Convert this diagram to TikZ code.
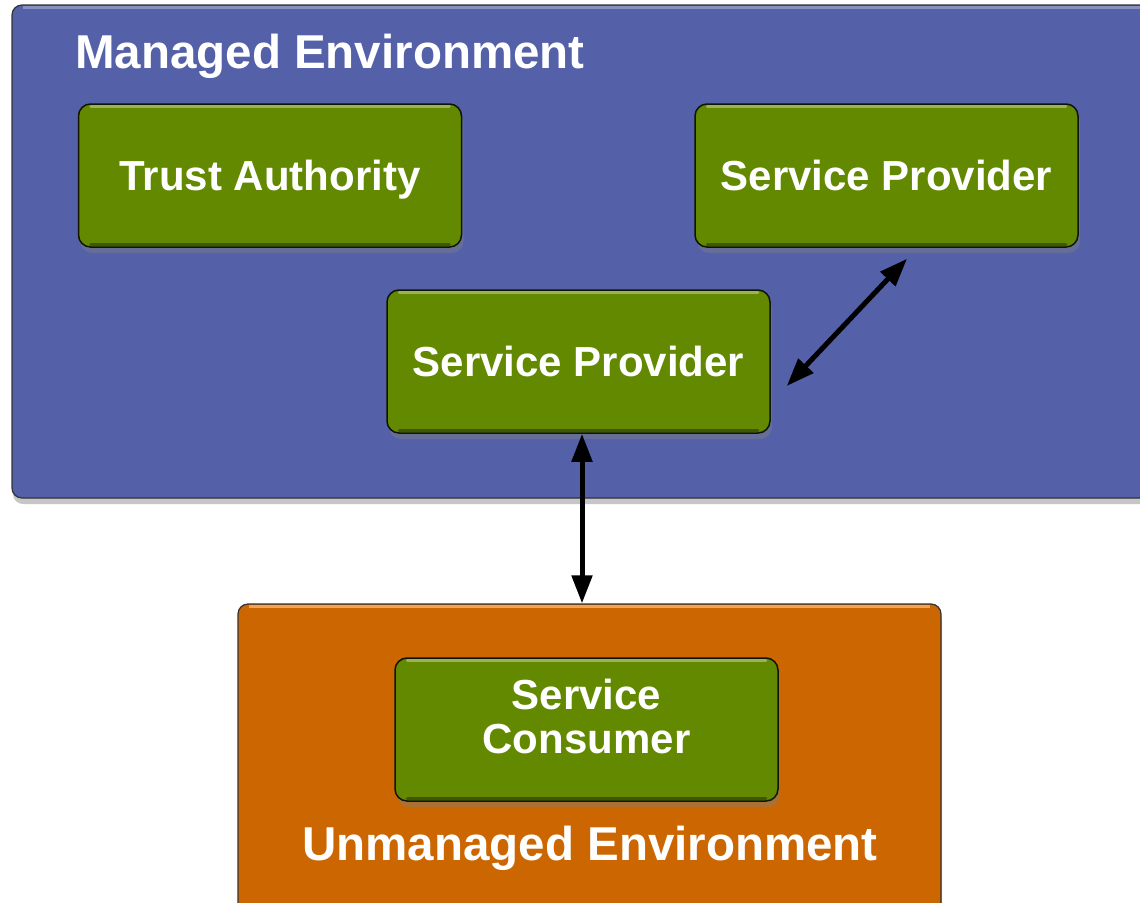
\documentclass[tikz,border=0pt]{standalone}
\usepackage{fontspec}
\setmainfont{Liberation Sans}
\usetikzlibrary{arrows.meta,shadows}

\definecolor{envblue}{RGB}{84,97,169}
\definecolor{envorange}{RGB}{204,102,0}
\definecolor{boxgreen}{RGB}{98,137,0}

\tikzset{
  envbox/.style={draw=black!80, line width=1.2pt, rounded corners=10pt,
    drop shadow={shadow xshift=1pt, shadow yshift=-6pt, opacity=0.45}},
  compbox/.style={draw=black!85!boxgreen, line width=1.5pt, fill=boxgreen,
    rounded corners=12pt, minimum width=383pt, minimum height=143pt,
    align=center, text=white, font=\fontsize{42}{44}\selectfont\bfseries,
    drop shadow={shadow xshift=2pt, shadow yshift=-6pt, opacity=0.4}},
  oneline/.style={text height=30pt, text depth=0pt},
  envtitle/.style={text=white, font=\fontsize{47.5}{50}\selectfont\bfseries, inner sep=0pt},
  link/.style={line width=5pt, {Triangle[length=28pt,width=20pt]}-{Triangle[length=28pt,width=20pt]}}
}

\begin{document}
\begin{tikzpicture}[x=1pt,y=-1pt]
  \useasboundingbox (0,0) rectangle (1140,902);
  \clip (0,0) rectangle (1140,902);
  % environments
  \node[envbox, fill=envblue, minimum width=1160pt, minimum height=493pt] (managed) at (592,251.5) {};
  \node[envbox, fill=envorange, minimum width=703pt, minimum height=330pt] (unmanaged) at (589.5,769) {};
  % top highlights
  \draw[white, opacity=0.3, line width=3pt] ([xshift=12pt,yshift=-3pt]managed.north west) -- ([xshift=-12pt,yshift=-3pt]managed.north east);
  \draw[white!50!orange, opacity=0.7, line width=3pt] ([xshift=12pt,yshift=-3pt]unmanaged.north west) -- ([xshift=-12pt,yshift=-3pt]unmanaged.north east);
  \node[envtitle, anchor=base west] (mtitle) at (75,68) {Managed Environment};
  \node[envtitle, anchor=base] (utitle) at (590,860) {Unmanaged Environment};
  % components
  \node[compbox, oneline] (trust) at (270,175.5) {Trust Authority};
  \node[compbox, oneline] (sptop) at (886.5,175.5) {Service Provider};
  \node[compbox, oneline] (spmid) at (578.5,361.5) {Service Provider};
  \node[compbox, text depth=26pt] (consumer) at (586.5,729.5) {Service\\Consumer};
  \foreach \b in {trust,sptop,spmid,consumer}{
    \draw[white!60!boxgreen, opacity=0.6, line width=3pt, line cap=round]
      ([xshift=13pt,yshift=-3pt]\b.north west) -- ([xshift=-13pt,yshift=-3pt]\b.north east);
    \draw[black!60!boxgreen, opacity=0.6, line width=3pt, line cap=round]
      ([xshift=13pt,yshift=3pt]\b.south west) -- ([xshift=-13pt,yshift=3pt]\b.south east);
  }
  % connectors
  \coordinate (c1) at ([shift={(16,24.5)}]spmid.east);
  \coordinate (c2) at ([shift={(20.5,11)}]sptop.south);
  \draw[link] (c1) -- (c2);
  \draw[link] ([xshift=3.5pt]spmid.south) -- ([xshift=3.5pt]spmid.south |- unmanaged.north);
\end{tikzpicture}
\end{document}
